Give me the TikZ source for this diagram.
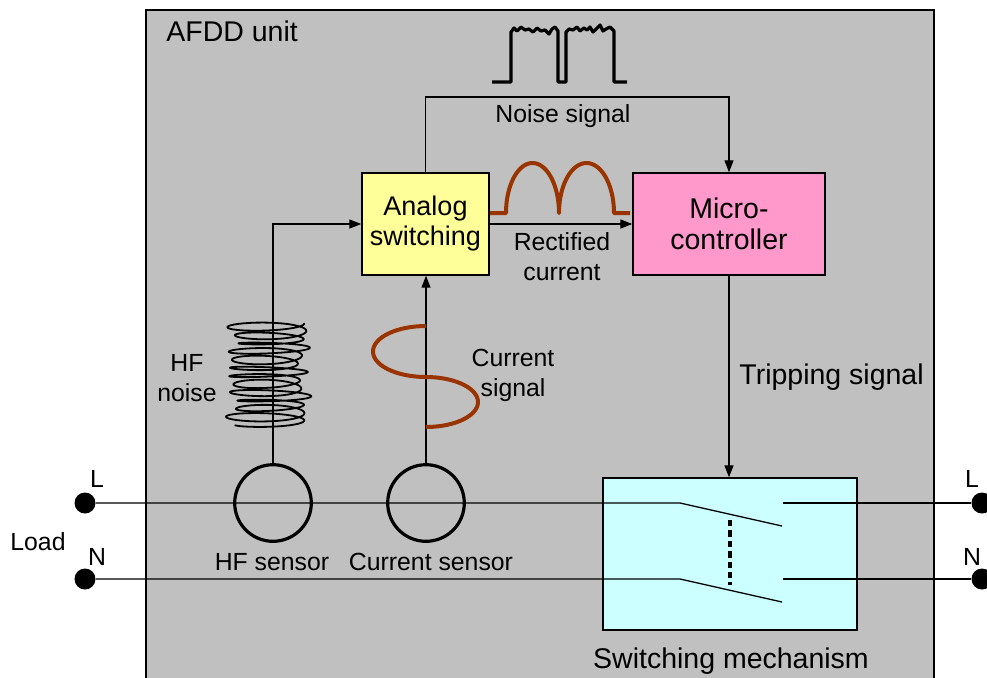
\documentclass[tikz,border=0pt]{standalone}
\usepackage{fontspec}
\setmainfont{Liberation Sans}
\usetikzlibrary{arrows.meta}
\definecolor{unitgray}{HTML}{C0C0C0}
\definecolor{anyellow}{HTML}{FFFF99}
\definecolor{mcpink}{HTML}{FF99CC}
\definecolor{swcyan}{HTML}{CCFFFF}
\definecolor{wavebrown}{HTML}{993300}
\newcommand\figsmall{\fontsize{12.4}{14.75}\selectfont}
\newcommand\figmid{\fontsize{13.5}{15}\selectfont}
\newcommand\figbig{\fontsize{14.25}{15.5}\selectfont}
\begin{document}
\begin{tikzpicture}[x=0.5pt,y=-0.5pt,
  wire/.style={line width=0.65pt},
  arrowline/.style={line width=0.65pt,-{Triangle[length=6pt,width=4.5pt]}},
  box/.style={draw,line width=0.7pt,inner sep=0pt,align=center},
  sensor/.style={circle,draw,line width=1.6pt,minimum size=38.3pt,inner sep=0pt},
  dot/.style={circle,fill=black,minimum size=10.5pt,inner sep=0pt},
  lbl/.style={inner sep=0pt,font=\figsmall},
  biglbl/.style={inner sep=0pt,font=\figbig},
  brownwave/.style={draw=wavebrown,line width=2pt,line join=round},
  noisewave/.style={line width=1.6pt,line join=round},
  coilwave/.style={line width=0.9pt,line join=round}]
\useasboundingbox (0,0) rectangle (987,677);
\fill[white] (0,0) rectangle (987,677);
\draw[fill=unitgray,line width=0.75pt] (146,10) rectangle (934,720);
\node[biglbl,anchor=base west] (title) at (166,41) {AFDD unit};

% blocks
\node[box,fill=anyellow,minimum width=63.5pt,minimum height=51pt,font=\figmid] (analog) at (425.5,224) {\raisebox{-1pt}{Analog}\\\raisebox{-1pt}{switching}};
\node[box,fill=mcpink,minimum width=96pt,minimum height=51pt,font=\figbig] (micro) at (729,224) {Micro-\\controller};
\node[box,fill=swcyan,minimum width=127pt,minimum height=76pt] (switchbox) at (730,554) {};

% sensors
\node[sensor] (hfs) at (273,503) {};
\node[sensor] (cs) at (426,503) {};

% terminals
\node[dot] (dL1) at (85,503) {};
\node[dot] (dN1) at (85,579) {};
\node[dot] (dL2) at (982,503) {};
\node[dot] (dN2) at (982,579) {};

% switch contacts
\coordinate (sL1) at (680,503);
\coordinate (sL2) at (782,526);
\coordinate (sL3) at (783,503);
\coordinate (sN1) at (680,579);
\coordinate (sN2) at (782,602);
\coordinate (sN3) at (783,579);
\draw[wire] (dL1) -- (sL1) -- (sL2);
\draw[wire] (sL3) -- (dL2);
\draw[wire] (dN1) -- (sN1) -- (sN2);
\draw[wire] (sN3) -- (dN2);
\coordinate (lk1) at (730,520);
\coordinate (lk2) at (730,585);
\draw[line width=1.9pt,dash pattern=on 3.2pt off 2pt] (lk1) -- (lk2);

% connectors
\coordinate (noisetop) at (0,97);
\draw[arrowline] (hfs.north) |- (analog.west);
\draw[arrowline] (cs.north) -- (cs.north |- analog.south);
\draw[arrowline] (analog.north) -- (analog.north |- noisetop) -| (micro.north);
\draw[arrowline] (analog.east) -- (micro.west);
\draw[arrowline] (micro.south) -- (micro.south |- switchbox.north);

% noise signal waveform
\draw[noisewave] (492,82) -- (511,82) -- (511,32) -- (514,28) -- (517,31) -- (521,27) -- (525,30) -- (529,29) -- (533,32) -- (537,28) -- (541,31) -- (545,30) -- (549,34) -- (552,29) -- (555,27) -- (558,31) -- (558,82) -- (566,82) -- (566,32) -- (569,29) -- (573,30) -- (577,27) -- (580,31) -- (584,28) -- (587,30) -- (590,27) -- (593,32) -- (597,28) -- (600,25) -- (603,31) -- (606,29) -- (610,27) -- (614,31) -- (614,82) -- (627,82);

% rectified current waveform
\draw[brownwave] (490,213) -- (506,213) -- plot[domain=0:180,samples=40] ({532.5-26.5*cos(\x)},{213-50*sin(\x)}) -- plot[domain=0:180,samples=40] ({586.5-27.5*cos(\x)},{213-50*sin(\x)}) -- (630,213);

% current signal
\draw[brownwave] plot[domain=0:180,samples=40] ({426-53*sin(\x)},{351.5-25.5*cos(\x)}) -- plot[domain=0:180,samples=40] ({426+52*sin(\x)},{402-25*cos(\x)});

% HF noise coil
\draw[coilwave] plot[domain=0:4500,samples=450] ({268+(36+4*sin(0.37*\x)+2.5*sin(0.71*\x))*cos(\x)+2.5*sin(0.13*\x)},{323+0.022667*\x+(4.5+2*sin(0.29*\x))*sin(\x)});

% labels
\node[lbl,anchor=base] (noiselbl) at (563,122) {Noise signal};
\node[lbl,align=center] (rectlbl) at (562,256.5) {Rectified\\current};
\node[biglbl,anchor=base west] (triplbl) at (739,384) {Tripping signal};
\node[lbl,align=center] (hflbl) at (187,378) {HF\\noise};
\node[lbl,align=center] (cslbl) at (513,375.5) {Current\\signal};
\node[lbl,anchor=base] (hfslbl) at (272,570) {HF sensor};
\node[lbl,anchor=base] (cslbl2) at (431,570) {Current sensor};
\node[biglbl,anchor=base] (swlbl) at (731,668) {Switching mechanism};
\node[lbl,anchor=base] (L1lbl) at (97,487) {L};
\node[lbl,anchor=base] (N1lbl) at (97,565) {N};
\node[lbl,anchor=base] (L2lbl) at (972,487) {L};
\node[lbl,anchor=base] (N2lbl) at (972,565) {N};
\node[lbl,anchor=base west] (loadlbl) at (10,550) {Load};
\end{tikzpicture}
\end{document}
